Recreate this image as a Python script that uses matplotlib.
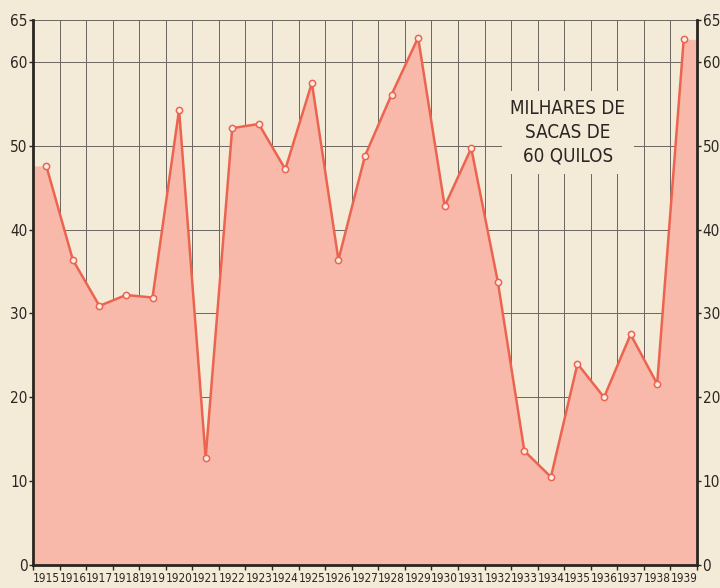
import numpy as np
import matplotlib
matplotlib.use("Agg")
import matplotlib.pyplot as plt

# Dados (milhares de sacas de 60 quilos)
anos = list(range(1915, 1940))
valores = [47.6, 36.4, 30.9, 32.2, 31.9, 54.3, 12.8, 52.1, 52.6, 47.2,
           57.5, 36.4, 48.8, 56.1, 62.9, 42.8, 49.7, 33.8, 13.6, 10.5,
           24.0, 20.0, 27.5, 21.6, 62.7]
y_ticks = [0, 10, 20, 30, 40, 50, 60, 65]
titulo = "MILHARES DE\nSACAS DE\n60 QUILOS"

fundo = "#f3ebd7"
rosa = "#f9b9aa"
vermelho = "#ec6450"
escuro = "#2b2522"
grade = "#6a6460"

plt.rcParams['font.family'] = ['DejaVu Sans']
plt.rcParams['font.stretch'] = 'condensed'

fig = plt.figure(figsize=(7.2, 5.88), dpi=100, facecolor=fundo)
ax = fig.add_axes([33 / 720, 23 / 588, 664 / 720, 545 / 588])
ax.set_facecolor(fundo)

x = np.arange(len(anos))
xf = np.concatenate([[-0.5], x, [len(anos) - 0.5]])
yf = np.concatenate([[valores[0]], valores, [valores[-1]]])

# grade
for b in np.arange(0.5, len(anos) - 0.5, 1):
    ax.axvline(b, color=grade, lw=0.7, zorder=1)
for v in [10, 20, 30, 40, 50, 60, 65]:
    ax.axhline(v, color=grade, lw=0.7, zorder=1)

ax.fill_between(xf, 0, yf, color=rosa, lw=0, zorder=2)
ax.plot(x, valores, color=vermelho, lw=1.8, zorder=3)
ax.plot(x, valores, "o", ms=4.5, mfc="#fbeee6", mec=vermelho, mew=1.1, zorder=4)

ax.set_xlim(-0.5, len(anos) - 0.5)
ax.set_ylim(0, 65)

for s in ["left", "right", "bottom"]:
    ax.spines[s].set_color(escuro)
    ax.spines[s].set_linewidth(2)
ax.spines["top"].set_visible(False)

ax.set_yticks(y_ticks)
ax.set_yticklabels([str(v) for v in y_ticks])
ax.tick_params(axis="y", which="both", left=True, right=True,
               labelleft=True, labelright=True, length=3, width=1,
               color=escuro, labelsize=11, labelcolor=escuro, pad=1)
for lab in ax.get_yticklabels(which="both"):
    lab.set_fontstretch("condensed")

ax.set_xticks(np.arange(-0.5, len(anos), 1))
ax.set_xticklabels([])
ax.tick_params(axis="x", length=7, width=1, color=escuro, direction="inout")
for i, a in enumerate(anos):
    ax.text(i, -0.8, str(a), ha="center", va="top", fontsize=8.5,
            color=escuro, fontstretch="condensed", clip_on=False)

ax.text(19.64, 51.6, titulo, ha="center", va="center", fontsize=13.5,
        color=escuro, linespacing=1.3, zorder=5, fontstretch="condensed",
        bbox=dict(facecolor=fundo, edgecolor="none", pad=6))

fig.savefig("out.png", dpi=100, facecolor=fundo)
